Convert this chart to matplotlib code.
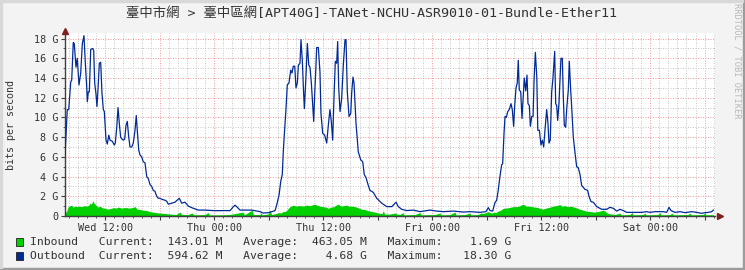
import matplotlib
matplotlib.use("Agg")
import matplotlib.pyplot as plt
from matplotlib.ticker import MultipleLocator, FuncFormatter
from matplotlib.patches import Rectangle

# ---------------- data (hours since Wed 00:00, values in Gbit/s) ----------------
title = "臺中市網 > 臺中區網[APT40G]-TANet-NCHU-ASR9010-01-Bundle-Ether11"
tick_hours = [12, 24, 36, 48, 60, 72]
tick_labels = ["Wed 12:00", "Thu 00:00", "Thu 12:00", "Fri 00:00", "Fri 12:00", "Sat 00:00"]
y_ticks = [0, 2, 4, 6, 8, 10, 12, 14, 16, 18]
y_tick_labels = ["0", "2 G", "4 G", "6 G", "8 G", "10 G", "12 G", "14 G", "16 G", "18 G"]

out_t = [7.56, 7.81, 7.97, 8.19, 8.30, 8.47, 8.58, 8.77, 8.91, 9.10, 9.29, 9.47, 9.65, 9.80, 9.95,
         10.02, 10.13, 10.24, 10.39, 10.61, 10.72, 10.83, 10.97, 11.08, 11.19, 11.34, 11.49, 11.63,
         11.78, 11.89, 12.08, 12.22, 12.38, 12.52, 12.74, 12.88, 12.99, 13.10, 13.25, 13.40, 13.54,
         13.69, 13.84, 13.98, 14.13, 14.28, 14.42, 14.58, 14.72, 14.91, 15.08, 15.27, 15.41, 15.52,
         15.68, 15.82, 16.01, 16.18, 16.37, 16.56, 16.73, 16.92, 17.11, 17.28, 17.47, 17.66, 17.83,
         18.02, 18.21, 18.57, 18.76, 18.94, 19.31, 19.67, 20.15, 20.41, 20.78, 21.14, 21.69, 22.24,
         22.98, 24.08, 25.18, 25.73, 26.06, 26.28, 26.47, 26.83, 28.12, 29.04, 29.40, 29.95, 30.69,
         30.87, 31.13, 31.32, 31.49, 31.60, 31.71, 31.90, 32.04, 32.23, 32.42, 32.56, 32.70, 32.86,
         33.00, 33.15, 33.26, 33.44, 33.55, 33.70, 33.81, 33.92, 34.07, 34.25, 34.41, 34.54, 34.69,
         34.84, 34.95, 35.06, 35.17, 35.28, 35.46, 35.64, 35.75, 35.94, 36.16, 36.38, 36.56, 36.74,
         36.89, 37.04, 37.18, 37.33, 37.48, 37.59, 37.70, 37.85, 38.03, 38.21, 38.40, 38.51, 38.65,
         38.84, 39.03, 39.14, 39.28, 39.39, 39.61, 39.86, 40.13, 40.35, 40.52, 40.71, 40.96, 41.15,
         41.51, 41.89, 42.44, 43.00, 43.55, 44.02, 44.27, 44.64, 45.19, 45.92, 46.66, 47.39, 47.76,
         48.49, 49.22, 50.32, 51.42, 52.16, 53.26, 53.92, 54.18, 54.37, 54.66, 54.91, 55.10, 55.27,
         55.46, 55.65, 55.76, 55.91, 56.02, 56.16, 56.32, 56.49, 56.68, 56.82, 56.97, 57.08, 57.23,
         57.37, 57.48, 57.59, 57.75, 57.89, 58.03, 58.14, 58.30, 58.44, 58.55, 58.70, 58.81, 58.96,
         59.11, 59.22, 59.36, 59.52, 59.63, 59.80, 59.98, 60.13, 60.28, 60.42, 60.61, 60.75, 60.86,
         61.00, 61.16, 61.30, 61.49, 61.60, 61.71, 61.82, 61.96, 62.07, 62.18, 62.33, 62.44, 62.55,
         62.70, 62.81, 62.99, 63.10, 63.25, 63.36, 63.54, 63.73, 63.91, 64.09, 64.28, 64.46, 64.64,
         64.83, 65.12, 65.27, 65.49, 65.74, 66.12, 66.67, 67.22, 67.58, 67.95, 68.32, 68.68, 69.05,
         69.42, 70.33, 71.07, 71.62, 71.99, 72.54, 73.46, 73.83, 74.08, 74.30, 74.74, 75.29, 75.84,
         76.58, 77.13, 77.68, 78.04, 78.41, 78.78, 78.96]
out_v = [6.1, 10.8, 10.8, 13.6, 13.8, 17.6, 17.5, 15.1, 16.0, 13.3, 14.5, 17.5, 18.3, 15.5, 13.1,
         11.6, 12.6, 12.6, 16.9, 17.0, 16.8, 13.5, 12.4, 11.1, 12.8, 15.5, 15.6, 12.5,
         10.8, 10.6, 7.7, 7.3, 8.2, 7.7, 7.6, 7.4, 7.2, 7.4, 8.9, 11.0, 9.4,
         8.0, 7.8, 7.7, 7.8, 9.2, 9.6, 8.0, 7.0, 7.0, 7.4, 8.7, 10.2, 8.7,
         6.7, 6.2, 6.0, 5.5, 5.4, 4.0, 3.8, 3.2, 3.0, 2.6, 2.5, 2.0, 1.8,
         1.8, 1.7, 1.6, 1.5, 1.2, 1.3, 1.4, 1.8, 1.3, 1.4, 1.0, 0.78, 0.6,
         0.6, 0.54, 0.55, 0.54, 0.9, 1.1, 0.95, 0.6, 0.6, 0.44, 0.3, 0.34, 0.54,
         1.1, 2.1, 3.5, 4.2, 6.5, 8.2, 10.9, 13.3, 13.5, 14.8, 14.5, 15.2, 15.2,
         13.0, 13.5, 15.3, 15.5, 17.9, 15.7, 13.1, 10.9, 13.6, 17.5, 15.3, 15.1, 13.5,
         11.3, 9.6, 12.4, 14.6, 17.1, 17.1, 14.6, 10.4, 8.4, 8.2, 7.4, 9.2, 10.8,
         9.6, 7.7, 11.9, 15.7, 15.5, 17.7, 13.1, 10.6, 11.9, 15.3, 17.9, 17.9, 12.6,
         10.1, 10.4, 12.6, 14.1, 13.5, 9.4, 6.5, 5.7, 5.5, 4.2, 3.9, 3.1, 2.6,
         2.4, 1.8, 1.3, 0.95, 0.95, 1.4, 0.95, 0.68, 0.55, 0.6, 0.44, 0.55, 0.6,
         0.5, 0.44, 0.5, 0.4, 0.44, 0.37, 0.44, 0.85, 0.55, 0.5, 1.35, 1.6, 2.6,
         4.0, 5.2, 5.3, 8.4, 10.1, 10.0, 10.6, 10.8, 11.4, 10.8, 9.1, 11.1, 13.0,
         13.5, 15.8, 12.8, 12.6, 9.9, 12.1, 14.0, 12.7, 14.3, 11.4, 11.2, 9.1, 10.1,
         10.1, 13.8, 16.6, 14.1, 8.7, 8.7, 7.2, 7.7, 7.0, 8.7, 10.8, 9.4, 7.4,
         7.7, 12.6, 14.0, 16.7, 11.4, 11.2, 9.7, 11.4, 13.6, 16.0, 16.0, 12.1, 9.2,
         9.0, 10.8, 12.8, 15.7, 12.8, 11.1, 8.0, 6.4, 5.0, 4.9, 4.2, 3.1, 2.9,
         2.7, 2.6, 2.0, 1.45, 1.4, 0.95, 0.68, 0.68, 0.88, 0.78, 0.5, 0.68, 0.55,
         0.37, 0.37, 0.37, 0.44, 0.37, 0.44, 0.44, 0.37, 0.88, 0.55, 0.37, 0.44, 0.34,
         0.44, 0.37, 0.27, 0.34, 0.37, 0.44, 0.6]

in_t = [7.56, 7.73, 7.89, 8.11, 8.30, 8.44, 8.66, 8.88, 9.10, 9.32, 9.54, 9.76, 9.98, 10.20, 10.31,
        10.48, 10.61, 10.76, 10.97, 11.19, 11.41, 11.63, 11.85, 12.08, 12.30, 12.52, 12.74, 12.96,
        13.18, 13.43, 13.62, 13.84, 14.05, 14.35, 14.61, 14.94, 15.27, 15.49, 15.82, 16.15, 16.56,
        16.92, 17.47, 18.02, 18.57, 19.13, 19.78, 20.23, 20.39, 21.11, 21.55, 21.77, 22.98, 23.31,
        23.47, 24.63, 25.73, 27.16, 27.33, 28.15, 28.32, 29.04, 29.15, 29.26, 29.92, 30.14, 30.31,
        30.80, 31.13, 31.35, 31.57, 31.79, 32.01, 32.15, 32.34, 32.70, 33.00, 33.22, 33.55, 33.77,
        34.17, 34.54, 34.87, 35.09, 35.31, 35.64, 35.97, 36.30, 36.56, 36.85, 37.18, 37.40, 37.66,
        37.95, 38.28, 38.58, 38.84, 39.17, 39.50, 39.83, 40.23, 40.60, 40.93, 41.34, 41.70, 42.04,
        42.48, 42.62, 42.75, 43.36, 43.91, 44.13, 44.45, 44.78, 44.89, 46.11, 46.66, 46.77, 48.31,
        48.86, 48.97, 49.96, 50.51, 50.62, 51.61, 52.16, 52.27, 53.04, 53.37, 53.59, 53.92, 54.14,
        54.37, 54.59, 54.81, 55.03, 55.25, 55.47, 55.83, 56.13, 56.46, 56.94, 57.23, 57.56, 57.78,
        58.03, 58.33, 58.66, 58.99, 59.32, 59.65, 59.87, 60.20, 60.53, 60.97, 61.30, 61.63, 61.85,
        62.07, 62.29, 62.62, 62.95, 63.28, 63.61, 63.94, 64.28, 64.61, 64.94, 65.38, 65.82, 66.26,
        66.48, 66.85, 67.14, 67.36, 67.80, 68.13, 68.68, 68.79, 69.78, 70.00, 70.11, 71.21, 71.43,
        71.54, 72.86, 73.08, 73.19, 74.19, 74.41, 74.52, 76.17, 76.39, 76.50, 77.82, 78.04, 78.15,
        78.96]
in_v = [0.35, 0.45, 0.9, 1.05, 1.1, 0.9, 1.0, 0.95, 1.0, 0.95, 1.0, 1.05, 1.0, 1.1, 1.3,
        1.2, 1.55, 1.3, 1.1, 0.9, 1.0, 0.85, 0.8, 0.75, 0.7, 0.75, 0.8, 0.85,
        0.8, 0.9, 0.85, 0.8, 0.85, 0.85, 0.8, 0.85, 0.95, 0.7, 0.65, 0.6, 0.55,
        0.45, 0.35, 0.3, 0.25, 0.2, 0.15, 0.4, 0.15, 0.15, 0.3, 0.12, 0.15, 0.35,
        0.12, 0.12, 0.15, 0.4, 0.12, 0.6, 0.15, 0.15, 0.35, 0.12, 0.2, 0.6, 0.15,
        0.25, 0.35, 0.3, 0.45, 0.45, 0.6, 0.78, 0.95, 1.1, 1.0, 1.05, 1.05, 1.0,
        1.1, 1.05, 1.15, 1.2, 1.1, 1.0, 0.95, 0.9, 0.78, 0.9, 0.95, 1.1, 1.2,
        1.0, 1.05, 1.1, 1.0, 1.0, 0.95, 0.85, 0.68, 0.65, 0.55, 0.45, 0.4, 0.3,
        0.25, 0.55, 0.2, 0.2, 0.3, 0.2, 0.15, 0.35, 0.12, 0.15, 0.35, 0.12, 0.15,
        0.3, 0.12, 0.15, 0.4, 0.12, 0.15, 0.3, 0.12, 0.15, 0.3, 0.25, 0.35, 0.45,
        0.35, 0.3, 0.4, 0.35, 0.5, 0.55, 0.78, 0.8, 0.85, 0.95, 0.95, 1.0, 1.1,
        1.2, 1.0, 1.0, 0.95, 0.9, 0.85, 0.78, 0.7, 0.8, 0.9, 1.0, 1.05, 1.1,
        1.15, 1.0, 1.05, 0.95, 1.0, 0.9, 0.8, 0.68, 0.6, 0.5, 0.45, 0.4, 0.45,
        0.5, 0.6, 0.4, 0.25, 0.2, 0.15, 0.3, 0.12, 0.15, 0.35, 0.12, 0.15, 0.3,
        0.12, 0.15, 0.35, 0.12, 0.15, 0.3, 0.12, 0.15, 0.3, 0.12, 0.15, 0.3, 0.12,
        0.14]

legend_rows = [
    "Inbound   Current:  143.01 M   Average:  463.05 M   Maximum:    1.69 G",
    "Outbound  Current:  594.62 M   Average:    4.68 G   Maximum:   18.30 G",
]
series_colors = ["#00CF00", "#002A97"]

# ---------------- figure ----------------
W, H = 745, 270
fig = plt.figure(figsize=(W / 100, H / 100), dpi=100)
fig.patch.set_facecolor("#F3F3F3")

def fx(px):
    return px / W

def fy(py):
    return 1 - py / H

# border shading
fig.patches.append(Rectangle((0, 0), 1, 2 / H, transform=fig.transFigure, color="#9C9C9C", zorder=0))
fig.patches.append(Rectangle((1 - 2 / W, 0), 2 / W, 1, transform=fig.transFigure, color="#9C9C9C", zorder=0))
fig.patches.append(Rectangle((0, 1 - 2 / H), 1 - 2 / W, 2 / H, transform=fig.transFigure, color="#D8D8D8", zorder=0))
fig.patches.append(Rectangle((0, 2 / H), 2 / W, 1 - 2 / H, transform=fig.transFigure, color="#D8D8D8", zorder=0))

ax = fig.add_axes([fx(65), fy(216), fx(650), (216 - 33) / H])
ax.set_facecolor("white")

mono = "DejaVu Sans Mono"
txt_color = "#333333"

ax.fill_between(in_t, in_v, 0, color=series_colors[0], linewidth=0, zorder=2)
ax.plot(out_t, out_v, color=series_colors[1], linewidth=0.9, zorder=3)

ax.set_xlim(7.56, 7.56 + 650 / 9.08)
ax.set_ylim(0, 183 / 9.855)

ax.xaxis.set_major_locator(MultipleLocator(6))
ax.xaxis.set_minor_locator(MultipleLocator(1))
lab_map = dict(zip(tick_hours, tick_labels))
ax.xaxis.set_major_formatter(FuncFormatter(lambda v, p: lab_map.get(int(round(v)), "")))
ax.set_yticks(y_ticks)
ax.set_yticklabels(y_tick_labels)
ax.yaxis.set_minor_locator(MultipleLocator(1))

ax.set_axisbelow(True)
ax.grid(which="minor", color="#C8C8C8", linestyle=(0, (1, 1.5)), linewidth=0.72)
ax.grid(which="major", color="#F0A0A0", linestyle=(0, (1, 1.5)), linewidth=0.72)

for s in ("top", "right"):
    ax.spines[s].set_visible(False)
for s in ("left", "bottom"):
    ax.spines[s].set_color("#404040")
    ax.spines[s].set_linewidth(1.0)

ax.tick_params(axis="both", which="major", length=3, width=0.8, color="#404040",
               labelsize=7.3, labelcolor=txt_color, pad=2)
ax.tick_params(axis="both", which="minor", length=1.5, width=0.6, color="#404040")
for lab in ax.get_xticklabels() + ax.get_yticklabels():
    lab.set_family(mono)

# axis arrows
ax.plot([1.0 + 5 / 650], [0], marker=">", color="#7F1F1F", markersize=5, transform=ax.transAxes,
        clip_on=False, zorder=5)
ax.plot([0], [1.0 + 2 / 183], marker="^", color="#7F1F1F", markersize=5, transform=ax.transAxes,
        clip_on=False, zorder=5)

# texts
fig.text(fx(372), fy(14), title, ha="center", va="center", fontsize=9.6, color=txt_color,
         family=[mono, "Noto Sans CJK TC"])
fig.text(fx(11), fy(125), "bits per second", rotation=90, ha="center", va="center",
         fontsize=7.2, color=txt_color, family=mono)
fig.text(fx(737), fy(3), "RRDTOOL / TOBI OETIKER", rotation=270, ha="center", va="top",
         fontsize=6.2, color="#B8B8B8", family=mono)

for i, (row, col) in enumerate(zip(legend_rows, series_colors)):
    yc = 242 + 14 * i
    fig.patches.append(Rectangle((fx(16), fy(yc + 4)), 7 / W, 8 / H, transform=fig.transFigure,
                                 facecolor=col, edgecolor="#202020", linewidth=0.6, zorder=3))
    fig.text(fx(30), fy(yc), row, ha="left", va="center", fontsize=8.2, color=txt_color,
             family=mono)

fig.savefig("out.png", dpi=100, facecolor=fig.get_facecolor())
